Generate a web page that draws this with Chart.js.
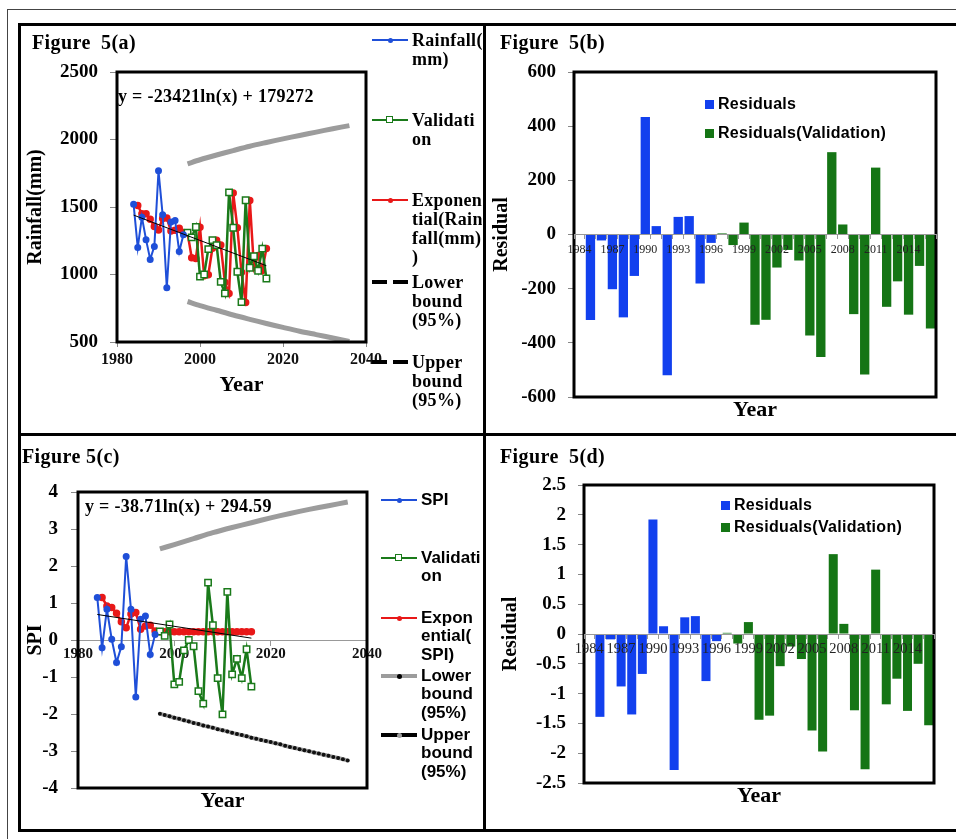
<!DOCTYPE html>
<html>
<head>
<meta charset="utf-8">
<title>Figure 5</title>
<script src="https://cdn.jsdelivr.net/npm/chart.js@4.4.1/dist/chart.umd.min.js"></script>
<style>
    html, body { margin: 0; padding: 0; width: 956px; height: 839px; overflow: hidden; background: #fff; }
    #page { position: relative; width: 956px; height: 839px; overflow: hidden; }
    canvas { position: absolute; }
    .rule { position: absolute; background: #000; z-index: 5; }
    .thin { position: absolute; border: 1px solid #444; }
    .txt { position: absolute; white-space: nowrap; color: #000; z-index: 6; }
    .fig { font: bold 20px 'Liberation Serif', serif; letter-spacing: 0.4px; line-height: 22px; }
    .eq { font: bold 18px 'Liberation Serif', serif; letter-spacing: 0.3px; line-height: 20px; }
    .legend { position: absolute; overflow: hidden; z-index: 6; }
    .legend .item { position: absolute; left: 0; }
    .legend .lines { position: absolute; white-space: nowrap; }
    .serifLegend { font: bold 18px 'Liberation Serif', serif; letter-spacing: 0.3px; }
    .sansLegend { font: bold 17px 'Liberation Sans', sans-serif; }
    .barLegend { font: bold 16px 'Liberation Sans', sans-serif; letter-spacing: 0.3px; }
</style>
</head>
<body>
<div id="page">
    <div class="thin" style="left:7px; top:9px; width:970px; height:850px;"></div>

    <canvas id="chartA" width="462" height="406" style="left:20px; top:26px;"></canvas>
    <canvas id="chartB" width="470" height="406" style="left:486px; top:26px;"></canvas>
    <canvas id="chartC" width="462" height="395" style="left:20px; top:436px;"></canvas>
    <canvas id="chartD" width="470" height="395" style="left:486px; top:436px;"></canvas>

    <!-- panel frame -->
    <div class="rule" style="left:18px; top:23px; width:960px; height:3px;"></div>
    <div class="rule" style="left:18px; top:23px; width:3px; height:809px;"></div>
    <div class="rule" style="left:18px; top:829px; width:960px; height:3px;"></div>
    <div class="rule" style="left:483px; top:23px; width:3px; height:809px;"></div>
    <div class="rule" style="left:18px; top:433px; width:960px; height:3px;"></div>

    <div class="txt fig" style="left:32px; top:31px; word-spacing:5px;">Figure 5(a)</div>
    <div class="txt fig" style="left:500px; top:31px; word-spacing:5px;">Figure 5(b)</div>
    <div class="txt fig" style="left:22px; top:445px;">Figure 5(c)</div>
    <div class="txt fig" style="left:500px; top:445px; word-spacing:5px;">Figure 5(d)</div>

    <div class="txt eq" style="left:118px; top:86px;">y = -23421ln(x) + 179272</div>
    <div class="txt eq" style="left:85px; top:496px;">y = -38.71ln(x) + 294.59</div>

    <div id="legendA" class="legend serifLegend" style="left:372px; top:0px; width:110px; height:432px;"></div>
    <div id="legendB" class="legend barLegend" style="left:705px; top:0px; width:240px; height:432px;"></div>
    <div id="legendC" class="legend sansLegend" style="left:381px; top:436px; width:101px; height:394px;"></div>
    <div id="legendD" class="legend barLegend" style="left:721px; top:436px; width:230px; height:394px;"></div>
</div>

<script>
// ---- values ----
var years = [1984, 1985, 1986, 1987, 1988, 1989, 1990, 1991, 1992, 1993, 1994,
             1995, 1996, 1997, 1998, 1999, 2000, 2001, 2002, 2003, 2004, 2005,
             2006, 2007, 2008, 2009, 2010, 2011, 2012, 2013, 2014, 2015, 2016];

// Figure 5(a) - rainfall (mm)
var rainfallObserved = [1520, 1200, 1425, 1258, 1112, 1208, 1768, 1442, 902, 1388, 1400,
                        1170, 1295, null, null, null, null, null, null, null, null, null,
                        null, null, null, null, null, null, null, null, null, null, null];
var rainfallValidation = [null, null, null, null, null, null, null, null, null, null, null,
                          null, null, 1310, 1275, 1352, 984, 1000, 1188, 1255, 1218, 945,
                          860, 1608, 1346, 1020, 795, 1550, 1050, 1135, 1028, 1192, 970];
var rainfallExponential = [null, 1512, 1450, 1450, 1410, 1355, 1330, 1415, 1418, 1322, 1328,
                           1342, 1312, 1307, 1125, 1118, 1350, 990, 998, 1195, 1253, 1218,
                           942, 860, 1604, 1346, 1016, 792, 1549, 1052, 1140, 1030, 1192];
var trendYears = [1984, 2016];
var rainfallTrend = [1440, 1065];
var boundYears = [1997, 2000, 2004, 2008, 2012, 2016, 2020, 2024, 2028, 2032, 2036];
var rainfallUpper = [1820, 1850, 1885, 1918, 1950, 1978, 2005, 2030, 2055, 2080, 2103];
var rainfallLower = [800, 770, 735, 700, 668, 637, 608, 580, 555, 530, 505];

// Figure 5(c) - SPI
var spiObserved = [1.15, -0.21, 0.83, 0.02, -0.61, -0.18, 2.26, 0.83, -1.54, 0.56, 0.65,
                   -0.39, 0.15, null, null, null, null, null, null, null, null, null,
                   null, null, null, null, null, null, null, null, null, null, null];
var spiValidation = [null, null, null, null, null, null, null, null, null, null, null,
                     null, null, 0.23, 0.11, 0.42, -1.20, -1.13, -0.28, 0.00, -0.17, -1.38,
                     -1.72, 1.55, 0.40, -1.03, -2.01, 1.30, -0.93, -0.51, -1.03, -0.25, -1.26];
var spiExponential = [null, 1.15, 0.92, 0.88, 0.72, 0.49, 0.33, 0.70, 0.74, 0.29, 0.38,
                      0.40, 0.24, 0.22, 0.22, 0.22, 0.22, 0.22, 0.22, 0.22, 0.22, 0.22,
                      0.22, 0.22, 0.22, 0.22, 0.22, 0.22, 0.22, 0.22, 0.22, 0.22, 0.22];
var spiTrend = [0.69, 0.05];
var spiUpper = [2.46, 2.58, 2.74, 2.90, 3.04, 3.17, 3.30, 3.42, 3.53, 3.63, 3.73];
var lowerYears = [1997, 1998, 1999, 2000, 2001, 2002, 2003, 2004, 2005, 2006,
                  2007, 2008, 2009, 2010, 2011, 2012, 2013, 2014, 2015, 2016,
                  2017, 2018, 2019, 2020, 2021, 2022, 2023, 2024, 2025, 2026,
                  2027, 2028, 2029, 2030, 2031, 2032, 2033, 2034, 2035, 2036];
var spiLower = [-1.99, -2.03, -2.06, -2.10, -2.13, -2.17, -2.20, -2.24, -2.27, -2.31,
                -2.34, -2.37, -2.41, -2.44, -2.47, -2.51, -2.54, -2.57, -2.60, -2.64,
                -2.67, -2.70, -2.73, -2.76, -2.79, -2.82, -2.86, -2.89, -2.92, -2.95,
                -2.98, -3.01, -3.04, -3.07, -3.10, -3.13, -3.16, -3.19, -3.22, -3.26];

// Figure 5(b) - rainfall residuals
var rainResidual = [null, -316, -22, -202, -306, -153, 434, 31, -520, 65, 68,
                    -181, -31, null, null, null, null, null, null, null, null, null,
                    null, null, null, null, null, null, null, null, null, null, null];
var rainResidualVal = [null, null, null, null, null, null, null, null, null, null, null,
                       null, null, 4, -39, 44, -333, -315, -122, -57, -96, -373,
                       -452, 304, 37, -294, -517, 247, -267, -173, -296, -116, -347];

// Figure 5(d) - SPI residuals
var spiResidual = [null, -1.39, -0.09, -0.88, -1.35, -0.67, 1.92, 0.13, -2.28, 0.28, 0.30,
                   -0.79, -0.12, null, null, null, null, null, null, null, null, null,
                   null, null, null, null, null, null, null, null, null, null, null];
var spiResidualVal = [null, null, null, null, null, null, null, null, null, null, null,
                      null, null, 0.02, -0.16, 0.20, -1.44, -1.37, -0.54, -0.21, -0.42, -1.62,
                      -1.97, 1.34, 0.17, -1.28, -2.27, 1.08, -1.18, -0.75, -1.29, -0.50, -1.53];

// legend texts, wrapped the way the original legend wraps them
var legendTextA = [['Rainfall(', 'mm)'], ['Validati', 'on'], ['Exponen', 'tial(Rain', 'fall(mm)', ')'],
                   ['Lower', 'bound', '(95%)'], ['Upper', 'bound', '(95%)']];
var legendTextC = [['SPI'], ['Validati', 'on'], ['Expon', 'ential(', 'SPI)'],
                   ['Lower', 'bound', '(95%)'], ['Upper', 'bound', '(95%)']];
var legendTextBars = ['Residuals', 'Residuals(Validation)'];

// ---- styles ----
var SERIF = "'Liberation Serif', 'Times New Roman', serif";
var BLUE = '#1f4fd8';
var GREEN = '#1a7a1a';
var RED = '#e81818';
var GREY = '#9c9c9c';
var BAR_BLUE = '#1240ee';
var BAR_GREEN = '#157515';

Chart.defaults.font.family = SERIF;
Chart.defaults.color = '#000';
Chart.defaults.animation = false;

// thick black frame round the plot area
var plotBox = {
    id: 'plotBox',
    afterDatasetsDraw: function(chart) {
        var a = chart.chartArea;
        var ctx = chart.ctx;
        ctx.save();
        ctx.strokeStyle = '#000';
        ctx.lineWidth = 3;
        ctx.strokeRect(a.left, a.top, a.right - a.left, a.bottom - a.top);
        ctx.restore();
    }
};

function toPoints(xs, ys) {
    return xs.map(function(x, i) { return { x: x, y: ys[i] }; })
             .filter(function(p) { return p.y !== null; });
}

function plainNumber(value) {
    return String(value);
}

function yearTitle() {
    return {
        display: true,
        text: 'Year',
        position: 'bottom',
        fullSize: false,
        color: '#000',
        font: { family: SERIF, size: 22, weight: 'bold' },
        padding: { top: 0, bottom: 0 }
    };
}

function valueAxis(min, max, step, width, title, tickLength, tickPadding) {
    return {
        min: min,
        max: max,
        afterFit: function(scale) { scale.width = width; },
        border: { display: false },
        grid: { drawOnChartArea: false, tickLength: tickLength, color: '#888' },
        ticks: { stepSize: step, padding: tickPadding, color: '#000',
                 font: { size: 19, weight: 'bold' }, callback: plainNumber },
        title: { display: true, text: title, color: '#000',
                 font: { family: SERIF, size: 20, weight: 'bold' }, padding: { top: 4, bottom: 0 } }
    };
}

// Create Figure 5(a): rainfall, validation and bounds
function createRainfallChart() {
    var ctx = document.getElementById('chartA').getContext('2d');
    return new Chart(ctx, {
        type: 'line',
        data: {
            datasets: [
                { label: 'Trend', data: toPoints(trendYears, rainfallTrend),
                  borderColor: '#000', borderWidth: 1, pointRadius: 0 },
                { label: 'Rainfall(mm)', data: toPoints(years, rainfallObserved),
                  borderColor: BLUE, backgroundColor: BLUE, borderWidth: 2, pointRadius: 2.5 },
                { label: 'Validation', data: toPoints(years, rainfallValidation),
                  borderColor: GREEN, borderWidth: 2.5, pointStyle: 'rect', pointRadius: 4.5,
                  pointBackgroundColor: '#fff', pointBorderColor: GREEN, pointBorderWidth: 1.5 },
                { label: 'Exponential(Rainfall(mm))', data: toPoints(years, rainfallExponential),
                  borderColor: RED, backgroundColor: RED, borderWidth: 2.5, pointRadius: 2.5 },
                { label: 'Lower bound (95%)', data: toPoints(boundYears, rainfallLower),
                  borderColor: GREY, borderWidth: 5, pointRadius: 0, tension: 0.3 },
                { label: 'Upper bound (95%)', data: toPoints(boundYears, rainfallUpper),
                  borderColor: GREY, borderWidth: 5, pointRadius: 0, tension: 0.3 }
            ]
        },
        options: {
            responsive: false,
            layout: { padding: { left: 0, top: 46, right: 116, bottom: 33.6 } },
            plugins: { legend: { display: false }, tooltip: { enabled: false }, title: yearTitle() },
            scales: {
                x: {
                    type: 'linear', min: 1980, max: 2040, position: 'bottom',
                    afterFit: function(scale) { scale.height = 30; },
                    border: { display: false },
                    grid: { drawOnChartArea: false, tickLength: 5, color: '#888' },
                    ticks: { stepSize: 20, padding: 3, color: '#111',
                             font: { size: 16, weight: 'bold' }, callback: plainNumber }
                },
                y: valueAxis(500, 2500, 500, 97, 'Rainfall(mm)', 7, 12)
            }
        },
        plugins: [plotBox]
    });
}

// Create Figure 5(c): SPI, validation and bounds
function createSpiChart() {
    var ctx = document.getElementById('chartC').getContext('2d');
    return new Chart(ctx, {
        type: 'line',
        data: {
            datasets: [
                { label: 'Trend', data: toPoints(trendYears, spiTrend),
                  borderColor: '#000', borderWidth: 1, pointRadius: 0 },
                { label: 'SPI', data: toPoints(years, spiObserved),
                  borderColor: BLUE, backgroundColor: BLUE, borderWidth: 2, pointRadius: 2.5 },
                { label: 'Validation', data: toPoints(years, spiValidation),
                  borderColor: GREEN, borderWidth: 2.5, pointStyle: 'rect', pointRadius: 4.5,
                  pointBackgroundColor: '#fff', pointBorderColor: GREEN, pointBorderWidth: 1.5 },
                { label: 'Exponential(SPI)', data: toPoints(years, spiExponential),
                  borderColor: RED, backgroundColor: RED, borderWidth: 2.5, pointRadius: 2.5 },
                { label: 'Lower bound (95%)', data: toPoints(lowerYears, spiLower),
                  borderColor: GREY, borderWidth: 4, pointRadius: 2, pointBackgroundColor: '#111',
                  pointBorderWidth: 0 },
                { label: 'Upper bound (95%)', data: toPoints(boundYears, spiUpper),
                  borderColor: GREY, borderWidth: 5, pointRadius: 0, tension: 0.3 }
            ]
        },
        options: {
            responsive: false,
            layout: { padding: { left: 0, top: 56, right: 115, bottom: 16.6 } },
            plugins: { legend: { display: false }, tooltip: { enabled: false }, title: yearTitle() },
            scales: {
                x: {
                    type: 'linear', min: 1980, max: 2040, position: { y: 0 },
                    border: { display: true, color: '#999', width: 1 },
                    grid: { drawOnChartArea: false, tickLength: 5, color: '#999' },
                    ticks: { stepSize: 20, padding: 0, color: '#111',
                             font: { size: 15, weight: 'bold' }, callback: plainNumber }
                },
                y: valueAxis(-4, 4, 1, 58, 'SPI', 7, 13)
            }
        },
        plugins: [plotBox]
    });
}

// Create residual bar chart (Figure 5(b) and 5(d))
function createResidualChart(canvasId, fitValues, valValues, yMin, yMax, yStep, axisWidth, padding, labelSize, labelPadding) {
    var ctx = document.getElementById(canvasId).getContext('2d');
    return new Chart(ctx, {
        type: 'bar',
        data: {
            labels: years.map(String),
            datasets: [
                { label: legendTextBars[0], data: fitValues, backgroundColor: BAR_BLUE,
                  grouped: false, barPercentage: 0.85, categoryPercentage: 1 },
                { label: legendTextBars[1], data: valValues, backgroundColor: BAR_GREEN,
                  grouped: false, barPercentage: 0.85, categoryPercentage: 1 }
            ]
        },
        options: {
            responsive: false,
            layout: { padding: padding },
            plugins: { legend: { display: false }, tooltip: { enabled: false }, title: yearTitle() },
            scales: {
                x: {
                    position: { y: 0 },
                    border: { display: true, color: '#999', width: 1, z: 1 },
                    grid: { drawOnChartArea: false, tickLength: 4, color: '#999', z: 1 },
                    ticks: {
                        z: 1,
                        autoSkip: false, maxRotation: 0, minRotation: 0, padding: labelPadding,
                        color: '#222', font: { size: labelSize },
                        callback: function(value, index) {
                            return index % 3 === 0 ? this.getLabelForValue(value) : '';
                        }
                    }
                },
                y: valueAxis(yMin, yMax, yStep, axisWidth, 'Residual', 6, 12)
            }
        },
        plugins: [plotBox]
    });
}

// HTML legends (the original wraps its legend text in narrow columns)
function lineLegend(boxId, chart, texts, centers, lineHeight, samples) {
    var box = document.getElementById(boxId);
    var datasets = chart.data.datasets.slice(1);
    texts.forEach(function(lines, i) {
        var s = samples[i];
        var color = s.color || datasets[i].borderColor;
        var cy = centers[i];
        var html = '<div class="item" style="top:' + (cy - 6) + 'px; width:36px; height:12px;">';
        if (s.gap) {
            html += '<div style="position:absolute; left:0; top:' + (6 - s.width / 2) + 'px; width:15px; height:' + s.width + 'px; background:' + color + ';"></div>';
            html += '<div style="position:absolute; left:21px; top:' + (6 - s.width / 2) + 'px; width:15px; height:' + s.width + 'px; background:' + color + ';"></div>';
        } else {
            html += '<div style="position:absolute; left:0; top:' + (6 - s.width / 2) + 'px; width:36px; height:' + s.width + 'px; background:' + color + ';"></div>';
        }
        if (s.marker === 'dot') {
            html += '<div style="position:absolute; left:15.5px; top:3.5px; width:5px; height:5px; border-radius:50%; background:' + (s.markerColor || color) + ';"></div>';
        } else if (s.marker === 'square') {
            html += '<div style="position:absolute; left:14px; top:2px; width:5px; height:5px; background:#fff; border:1.5px solid ' + color + ';"></div>';
        }
        html += '</div>';
        html += '<div class="lines" style="left:40px; top:' + (cy - lineHeight / 2) + 'px; line-height:' + lineHeight + 'px;">' + lines.join('<br>') + '</div>';
        box.insertAdjacentHTML('beforeend', html);
    });
}

function barLegend(boxId, chart, centers) {
    var box = document.getElementById(boxId);
    chart.data.datasets.forEach(function(ds, i) {
        var cy = centers[i];
        box.insertAdjacentHTML('beforeend',
            '<div class="item" style="top:' + (cy - 4.5) + 'px; width:9px; height:9px; background:' + ds.backgroundColor + ';"></div>' +
            '<div class="lines" style="left:13px; top:' + (cy - 10) + 'px; line-height:20px;">' + ds.label + '</div>');
    });
}

window.onload = function() {
    var chartA = createRainfallChart();
    var chartC = createSpiChart();
    var chartB = createResidualChart('chartB', rainResidual, rainResidualVal, -600, 600, 200, 88,
                                     { left: 0, top: 46, right: 20, bottom: 8.6 }, 12, 4);
    var chartD = createResidualChart('chartD', spiResidual, spiResidualVal, -2.5, 2.5, 0.5, 89,
                                     { left: 9, top: 49, right: 22, bottom: 21.6 }, 14.5, 2);

    lineLegend('legendA', chartA, legendTextA, [40, 120, 200, 282, 362], 19, [
        { width: 2, marker: 'dot' },
        { width: 2, marker: 'square' },
        { width: 2, marker: 'dot' },
        { color: '#000', width: 4, gap: true },
        { color: '#000', width: 4, gap: true }
    ]);
    lineLegend('legendC', chartC, legendTextC, [64, 122, 182, 240, 299], 18.5, [
        { width: 2, marker: 'dot' },
        { width: 2, marker: 'square' },
        { width: 2, marker: 'dot' },
        { width: 4, marker: 'dot', markerColor: '#000' },
        { color: '#000', width: 4, marker: 'dot', markerColor: GREY }
    ]);
    barLegend('legendB', chartB, [104, 133]);
    barLegend('legendD', chartD, [69, 91]);
};
</script>
</body>
</html>
